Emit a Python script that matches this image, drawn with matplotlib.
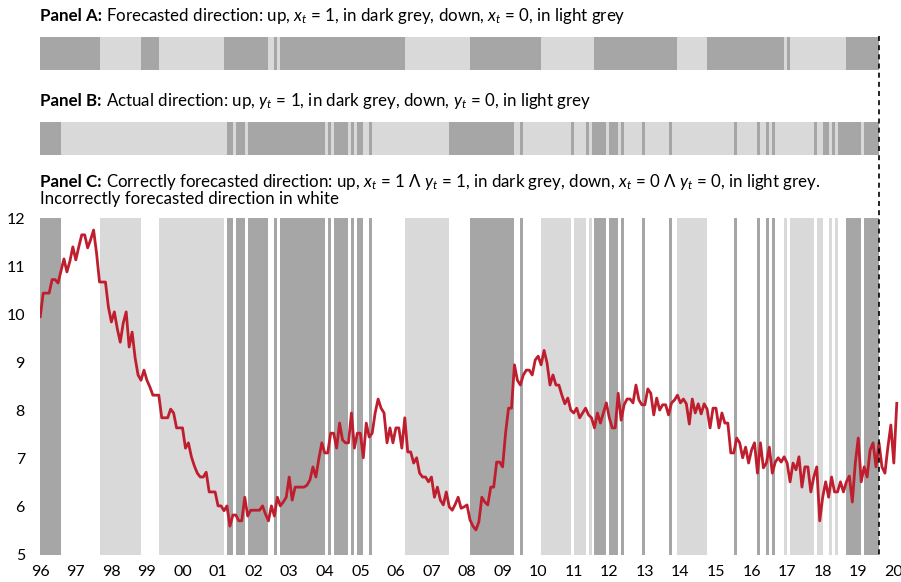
import numpy as np
import matplotlib
matplotlib.use("Agg")
import matplotlib.pyplot as plt
from matplotlib.colors import ListedColormap
from matplotlib.lines import Line2D
from matplotlib.transforms import blended_transform_factory

plt.rcParams['font.family'] = ['Lato', 'DejaVu Sans']
plt.rcParams['mathtext.fontset'] = 'custom'
plt.rcParams['mathtext.rm'] = 'Lato'
plt.rcParams['mathtext.it'] = 'Lato:italic'
plt.rcParams['mathtext.bf'] = 'Lato:bold'

# months since Jan 1996; in-sample ends at the dashed line
n_in = 283
years = list(range(1996, 2021))

# forecast "up" months (panel A), [start, end)
A_up = [(0, 20), (34, 40), (62, 77), (79, 80), (81, 123), (145, 169), (187, 215),
        (225, 251), (252, 253), (272, 283)]
# actual "up" months (panel B)
B_up = [(0, 7), (63, 65), (66, 69), (70, 96), (97, 98), (99, 104), (105, 106),
        (107, 109), (111, 112), (138, 160), (162, 163), (179, 180), (184, 185),
        (186, 191), (192, 195), (196, 197), (203, 204), (212, 213), (234, 235),
        (242, 243), (245, 246), (247, 248), (261, 262), (264, 266), (267, 268),
        (269, 277), (278, 283)]

rate = [
    9.95, 10.44, 10.44, 10.44, 10.72, 10.72, 10.65, 10.9, 11.15, 10.88, 11.1, 11.4,
    11.13, 11.4, 11.65, 11.65, 11.38, 11.55, 11.75, 11.27, 10.67, 10.67, 10.67, 10.15,
    9.84, 10.05, 9.7, 9.42, 9.82, 10.05, 9.32, 9.63, 9.1, 8.74, 8.63, 8.84,
    8.63, 8.49, 8.32, 8.32, 8.32, 7.85, 7.85, 7.85, 8.03, 7.95, 7.64, 7.64,
    7.64, 7.22, 7.33, 7.04, 6.85, 6.7, 6.62, 6.62, 6.72, 6.31, 6.31, 6.31,
    6.02, 6.02, 5.92, 6.02, 5.6, 5.83, 5.83, 5.71, 5.71, 6.2, 5.81, 5.93,
    5.93, 5.93, 5.93, 6.02, 5.85, 5.71, 6.02, 5.81, 6.2, 6.02, 6.1, 6.2,
    6.62, 6.14, 6.41, 6.41, 6.41, 6.41, 6.45, 6.56, 6.83, 6.62, 7.0, 7.33,
    7.12, 7.12, 7.53, 7.53, 7.22, 7.74, 7.39, 7.33, 7.33, 7.95, 7.22, 7.53,
    7.53, 7.02, 7.74, 7.45, 7.53, 7.95, 8.24, 8.05, 7.95, 7.33, 7.64, 7.33,
    7.64, 7.64, 7.22, 7.85, 7.14, 7.14, 6.91, 7.02, 6.7, 6.62, 6.62, 6.52,
    6.62, 6.2, 6.41, 6.14, 6.04, 6.31, 6.0, 5.93, 6.05, 6.2, 5.97, 6.0,
    6.04, 5.73, 5.6, 5.52, 5.69, 6.2, 6.1, 6.04, 6.41, 6.41, 6.93, 6.93,
    6.83, 7.53, 8.05, 8.05, 8.95, 8.63, 8.53, 8.74, 8.84, 8.84, 8.74, 9.05,
    9.13, 8.95, 9.25, 8.99, 8.53, 8.74, 8.53, 8.53, 8.32, 8.14, 8.26, 8.01,
    7.95, 8.05, 7.85, 7.95, 8.05, 7.91, 7.85, 7.64, 7.95, 7.74, 7.95, 8.16,
    7.85, 7.64, 7.64, 8.36, 7.8, 8.12, 8.24, 8.24, 8.16, 8.53, 8.22, 8.12,
    8.12, 8.45, 8.36, 7.91, 8.26, 8.01, 8.12, 8.12, 7.91, 8.16, 8.22, 8.32,
    8.16, 8.24, 8.14, 7.72, 8.24, 7.95, 8.14, 7.93, 8.14, 8.03, 7.64, 8.05,
    8.05, 7.64, 7.95, 7.74, 7.74, 7.12, 7.12, 7.43, 7.33, 7.02, 7.24, 6.91,
    7.18, 7.33, 6.7, 7.33, 6.81, 6.91, 7.24, 6.7, 6.93, 7.02, 6.93, 7.04,
    6.91, 6.52, 6.91, 6.77, 7.04, 6.41, 6.83, 6.83, 6.31, 6.62, 6.83, 5.71,
    6.2, 6.52, 6.2, 6.62, 6.31, 6.31, 6.52, 6.31, 6.52, 6.64, 6.1, 6.91,
    7.43, 6.52, 6.83, 6.62, 7.18, 7.33, 6.83, 7.33, 6.83, 6.7, 7.24, 7.7,
    6.91, 8.15,
]

dark = '#a6a6a6'
light = '#d9d9d9'
red = '#be1e2d'

def to_flags(intervals):
    f = np.zeros(n_in, dtype=int)
    for s, e in intervals:
        f[s:e] = 1
    return f

a = to_flags(A_up)
b = to_flags(B_up)
# 0 white (wrong), 1 light (both down), 2 dark (both up)
c = np.where((a == 1) & (b == 1), 2, np.where((a == 0) & (b == 0), 1, 0))

W, H = 901, 582
fig = plt.figure(figsize=(W / 100, H / 100), dpi=100)
x0 = 40.24
xmax = (W - x0) / 2.9638

def add_ax(top, bottom):
    return fig.add_axes([x0 / W, 1 - bottom / H, 1 - x0 / W, (bottom - top) / H])

edges = np.arange(n_in + 1)
cmap = ListedColormap(['white', light, dark])

for top, bottom, flags in [(37, 70, a + 1), (122, 155, b + 1)]:
    ax = add_ax(top, bottom)
    ax.pcolormesh(edges, [0, 1], flags[None, :], cmap=cmap, vmin=0, vmax=2)
    ax.set_xlim(0, xmax)
    ax.set_ylim(0, 1)
    ax.axis('off')

axc = add_ax(218, 555)
axc.pcolormesh(edges, [5, 12], c[None, :], cmap=cmap, vmin=0, vmax=2)
axc.plot(np.arange(len(rate)), rate, color=red, lw=2.0, zorder=3)
axc.set_xlim(0, xmax)
axc.set_ylim(5, 12)
axc.set_yticks(range(5, 13))
axc.set_xticks([12 * i for i in range(len(years))])
axc.set_xticklabels([f'{y % 100:02d}' for y in years])
axc.tick_params(length=0, labelsize=11.5, colors='black')
axc.tick_params(axis='y', pad=11)
axc.tick_params(axis='x', pad=7)
for sp in axc.spines.values():
    sp.set_visible(False)

trans = blended_transform_factory(axc.transData, fig.transFigure)
fig.add_artist(Line2D([n_in, n_in], [1 - 36 / H, 1 - 555 / H], transform=trans,
                      color='black', lw=1.2, ls=(0, (3, 2.5))))

fs = 12.2
renderer = fig.canvas.get_renderer()

def panel_title(base_y, bold, rest):
    t = fig.text(x0 / W, 1 - base_y / H, bold, fontsize=fs, fontweight='bold',
                 va='baseline', ha='left')
    bb = t.get_window_extent(renderer)
    fig.text((bb.x1 + 4) / W, 1 - base_y / H, rest, fontsize=fs,
             va='baseline', ha='left')

panel_title(21, 'Panel A:',
            r"Forecasted direction: up, $x_t$ = 1, in dark grey, down, $x_t$ = 0, in light grey")
panel_title(106, 'Panel B:',
            r"Actual direction: up, $y_t$ = 1, in dark grey, down, $y_t$ = 0, in light grey")
panel_title(187, 'Panel C:',
            r"Correctly forecasted direction: up, $x_t$ = 1 $\Lambda$ $y_t$ = 1, in dark grey, "
            r"down, $x_t$ = 0 $\Lambda$ $y_t$ = 0, in light grey.")
fig.text(x0 / W, 1 - 204 / H, 'Incorrectly forecasted direction in white',
         fontsize=fs, va='baseline', ha='left')

fig.savefig('out.png', dpi=100)
